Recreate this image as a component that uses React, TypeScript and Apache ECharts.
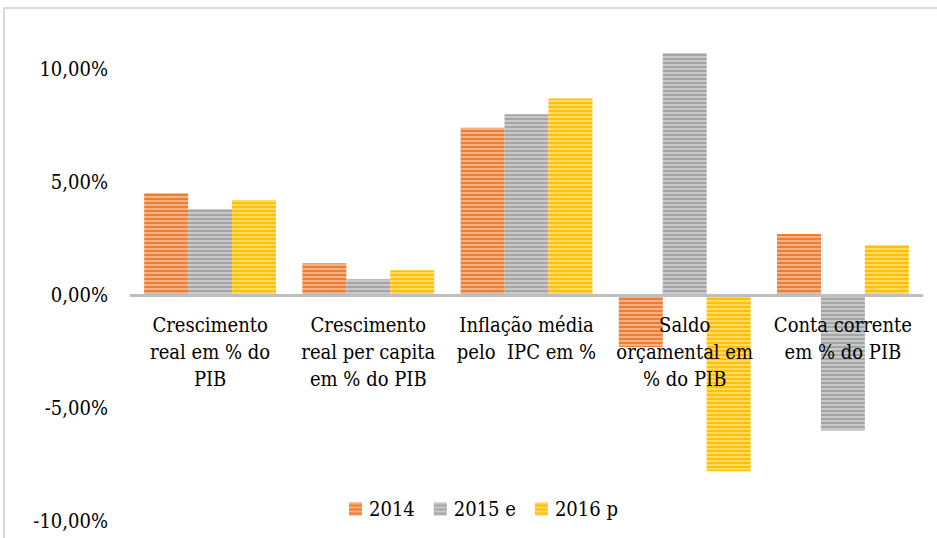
import React, { useEffect, useRef } from "react";
import * as echarts from "echarts";

const categories = [
  "Crescimento\nreal em % do\nPIB",
  "Crescimento\nreal per capita\nem % do PIB",
  "Inflação média\npelo  IPC em %",
  "Saldo\norçamental em\n% do PIB",
  "Conta corrente\nem % do PIB",
];
const seriesNames = ["2014", "2015 e", "2016 p"];
const values2014 = [4.5, 1.4, 7.4, -2.3, 2.7];
const values2015 = [3.8, 0.7, 8.0, 10.7, -6.0];
const values2016 = [4.2, 1.1, 8.7, -7.8, 2.2];
const yTicks = { min: -10, max: 10, interval: 5 };

const FONT = "DejaVu Serif Condensed, DejaVu Serif, serif";

export default function App() {
  const ref = useRef<HTMLDivElement>(null);
  useEffect(() => {
    if (!ref.current) return;
    const chart = echarts.init(ref.current, undefined, { renderer: "svg" });
    const mk = (name: string, data: number[], color: string) => ({
      name,
      type: "bar",
      data,
      clip: false,
      barGap: "0%",
      barCategoryGap: "16.7%",
      itemStyle: {
        color,
        decal: {
          symbol: "rect",
          symbolSize: 1,
          dashArrayX: [1, 0],
          dashArrayY: [2, 2],
          rotation: 0,
          color: "rgba(255,255,255,0.4)",
        },
      },
    });
    chart.setOption({
      animation: false,
      backgroundColor: "#ffffff",
      graphic: [
        {
          type: "rect",
          shape: { x: 4, y: 8, width: 1000, height: 1000 },
          style: { fill: "none", stroke: "#d9d9d9", lineWidth: 2 },
          silent: true,
          z: -1,
        },
      ],
      grid: {
        left: 131,
        right: 15,
        top: 69,
        bottom: 17,
        containLabel: false,
        outerBoundsMode: "none",
      },
      legend: {
        left: 344,
        top: 494,
        itemWidth: 13,
        itemHeight: 13,
        itemGap: 19,
        icon: "rect",
        textStyle: {
          fontFamily: FONT,
          fontSize: 20,
          color: "#000",
          padding: [0, 0, 0, 2],
        },
        data: seriesNames,
      },
      xAxis: {
        type: "category",
        data: categories,
        z: 5,
        position: "bottom",
        offset: -226,
        axisLine: { show: true, onZero: false, lineStyle: { color: "#BFBFBF", width: 3 } },
        axisTick: { show: false },
        axisLabel: {
          interval: 0,
          margin: 16,
          fontFamily: FONT,
          fontSize: 20,
          lineHeight: 27,
          color: "#000",
        },
      },
      yAxis: {
        type: "value",
        min: yTicks.min,
        max: yTicks.max,
        interval: yTicks.interval,
        axisLine: { show: false },
        axisTick: { show: false },
        splitLine: { show: false },
        axisLabel: {
          margin: 23,
          fontFamily: FONT,
          fontSize: 20,
          color: "#000",
          formatter: (v: number) => v.toFixed(2).replace(".", ",") + "%",
        },
      },
      series: [
        mk(seriesNames[0], values2014, "#ED7D31"),
        mk(seriesNames[1], values2015, "#A5A5A5"),
        mk(seriesNames[2], values2016, "#FFC000"),
      ],
    });
    return () => chart.dispose();
  }, []);
  return (
    <div
      ref={ref}
      style={{ position: "fixed", left: 0, top: 0, width: 937, height: 538 }}
    />
  );
}
